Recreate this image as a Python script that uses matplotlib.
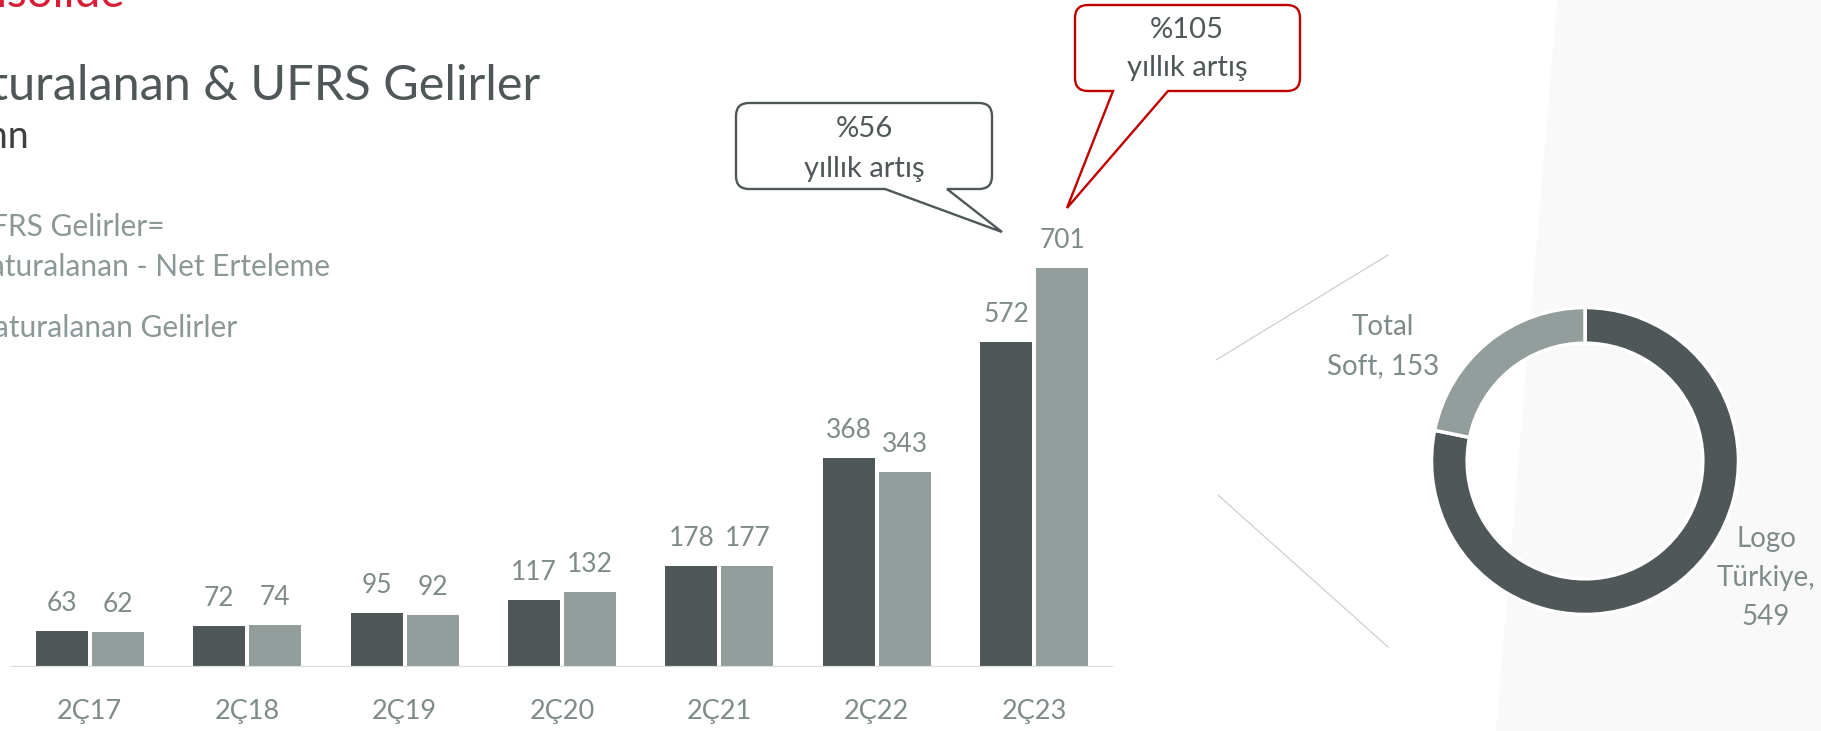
import textwrap
import matplotlib
matplotlib.use("Agg")
import matplotlib.pyplot as plt
from matplotlib.path import Path
from matplotlib.patches import PathPatch, Polygon

plt.rcParams['font.family'] = ['Lato', 'DejaVu Sans']

# data
periods = ["2Ç17", "2Ç18", "2Ç19", "2Ç20", "2Ç21", "2Ç22", "2Ç23"]
faturalanan = [63, 72, 95, 117, 178, 368, 572]
ufrs = [62, 74, 92, 132, 177, 343, 701]
donut_names = ["Logo Türkiye", "Total Soft"]
donut_values = [549, 153]
growth = ["%56", "%105"]

W, H = 1821, 731
DARK = '#4f5759'
LIGHT = '#939d9c'
LABEL = '#7f8b8a'
PX = 0.72  # points per pixel at dpi 100

fig = plt.figure(figsize=(W / 100, H / 100), dpi=100)

# full-figure layer in pixel coords (y down)
ov = fig.add_axes([0, 0, 1, 1])
ov.set_xlim(0, W)
ov.set_ylim(H, 0)
ov.axis('off')
ov.add_patch(Polygon([(1557, 0), (W, 0), (W, H), (1496, H)], closed=True,
                     facecolor='#f9f9f9', edgecolor='none'))

# header texts (partly outside the slide crop)
ov.text(125, 7, "Konsolide", color='#d71e36', fontsize=33, ha='right', va='baseline')
ov.text(540, 100, "Faturalanan & UFRS Gelirler", color=DARK, fontsize=35,
        ha='right', va='baseline')
ov.text(29, 148, "TL mn", color='#3f3f3f', fontsize=27, ha='right', va='baseline')
ov.text(165, 236, "UFRS Gelirler=", color='#8b9897', fontsize=21.5, ha='right', va='baseline')
ov.text(330, 276, "Faturalanan - Net Erteleme", color='#8b9897', fontsize=21.5,
        ha='right', va='baseline')
ov.text(237, 337, "Faturalanan Gelirler", color='#8b9897', fontsize=21.5,
        ha='right', va='baseline')


def callout(ax, box, r, base, tip, edge, lines, cx, baselines):
    x0, y0, x1, y1 = box
    verts = [(x0 + r, y0), (x1 - r, y0), (x1, y0), (x1, y0 + r), (x1, y1 - r),
             (x1, y1), (x1 - r, y1), (base[1], y1), tip, (base[0], y1),
             (x0 + r, y1), (x0, y1), (x0, y1 - r), (x0, y0 + r), (x0, y0),
             (x0 + r, y0), (x0 + r, y0)]
    codes = [Path.MOVETO, Path.LINETO, Path.CURVE3, Path.CURVE3, Path.LINETO,
             Path.CURVE3, Path.CURVE3, Path.LINETO, Path.LINETO, Path.LINETO,
             Path.LINETO, Path.CURVE3, Path.CURVE3, Path.LINETO, Path.CURVE3,
             Path.CURVE3, Path.CLOSEPOLY]
    ax.add_patch(PathPatch(Path(verts, codes), facecolor='white', edgecolor=edge,
                           lw=1.7, joinstyle='miter'))
    for txt, yb in zip(lines, baselines):
        ax.text(cx, yb, txt, color=DARK, fontsize=21, ha='center', va='baseline')


callout(ov, (736, 103, 992, 189), 13, (885, 947), (1002, 232), DARK,
        [growth[0], "yıllık artış"], 864, [137, 177])
callout(ov, (1075, 5, 1300, 91), 13, (1113, 1168), (1067, 208), '#c00000',
        [growth[1], "yıllık artış"], 1187, [38, 76])

# thin guide lines towards the donut
ov.plot([1216, 1388], [360, 255], color='#cfcfcf', lw=0.9)
ov.plot([1218, 1388], [495, 647], color='#cfcfcf', lw=0.9)

# bar chart
ax = fig.add_axes([11 / W, 64 / H, 1102 / W, 455 / H])
ax.patch.set_visible(False)
x = list(range(len(periods)))
off, bw = 0.178, 0.33
ax.bar([i - off for i in x], faturalanan, width=bw, color=DARK)
ax.bar([i + off for i in x], ufrs, width=bw, color=LIGHT)
for i in x:
    for xx, v in ((i - off, faturalanan[i]), (i + off, ufrs[i])):
        ax.annotate(str(v), (xx, v), xytext=(0, 20 * PX), textcoords='offset points',
                    ha='center', va='baseline', fontsize=19, color=LABEL)
    ax.annotate(periods[i], (i, 0), xytext=(0, -52 * PX), textcoords='offset points',
                ha='center', va='baseline', fontsize=19.5, color=LABEL,
                annotation_clip=False)
ax.axhline(0, color='#d9dcdc', lw=1.6)
ax.set_xlim(-0.5, 6.5)
ax.set_ylim(0, 800)
ax.axis('off')

# donut
cx, cy, R = 1585, 461, 155
dax = fig.add_axes([(cx - R) / W, (H - cy - R) / H, 2 * R / W, 2 * R / H])
dax.pie(donut_values, colors=[DARK, LIGHT], startangle=90, counterclock=False,
        wedgeprops=dict(width=36 / R, edgecolor='white', linewidth=2.5))
dax.set_xlim(-1.01, 1.01)
dax.set_ylim(-1.01, 1.01)
dax.patch.set_visible(False)

label_pos = [(1766, 547), (1383, 335)]
for name, v, (lx, ly) in zip(donut_names, donut_values, label_pos):
    for k, line in enumerate(textwrap.wrap(f"{name}, {v}", width=9)):
        ov.text(lx, ly + 39 * k, line, color=LABEL, fontsize=20, ha='center',
                va='baseline')

fig.savefig("out.png", dpi=100)
